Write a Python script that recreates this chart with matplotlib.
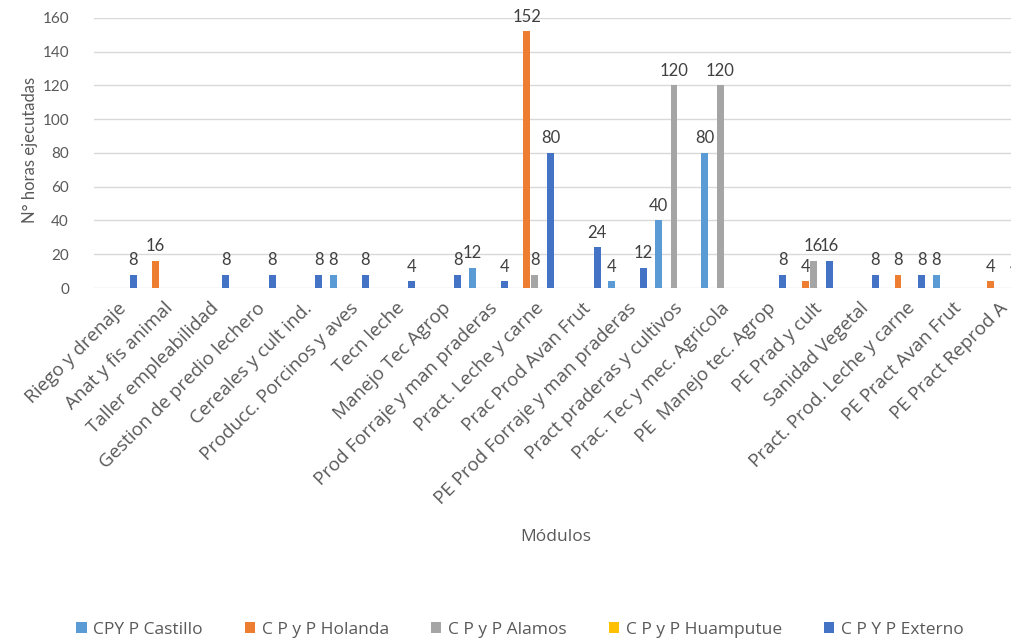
import numpy as np
import matplotlib
matplotlib.use('Agg')
import matplotlib.pyplot as plt

plt.rcParams['font.family'] = ['Lato', 'DejaVu Sans']

# ── Data ─────────────────────────────────────────────────────
modulos = [
    "Riego y drenaje", "Anat y fis animal", "Taller empleabilidad",
    "Gestion de predio lechero", "Cereales y cult ind.", "Producc. Porcinos y aves",
    "Tecn leche", "Manejo Tec Agrop", "Prod Forraje y man praderas",
    "Pract. Leche y carne", "Prac Prod Avan Frut", "PE Prod Forraje y man praderas",
    "Pract praderas y cultivos", "Prac. Tec y mec. Agricola", "PE  Manejo tec. Agrop",
    "PE Prad y cult", "Sanidad Vegetal", "Pract. Prod. Leche y carne",
    "PE Pract Avan Frut", "PE Pract Reprod A",
]
series_names = ["CPY P Castillo", "C P y P Holanda", "C P y P Alamos",
                "C P y P Huamputue", "C P Y P Externo"]
castillo  = [None, None, None, None, None, 8, None, None, 12, None,
             None, 4, 40, 80, None, None, None, None, 8, None]
holanda   = [None, 16, None, None, None, None, None, None, None, 152,
             None, None, None, None, None, 4, None, 8, None, 4]
alamos    = [None, None, None, None, None, None, None, None, None, 8,
             None, None, 120, 120, None, 16, None, None, None, None]
huamputue = [None] * 20
externo   = [8, None, 8, 8, 8, 8, 4, 8, 4, 80,
             24, 12, None, None, 8, 16, 8, 8, None, 4]
colors = ['#5B9BD5', '#ED7D31', '#A5A5A5', '#FFC000', '#4472C4']

# ── Figure ───────────────────────────────────────────────────
fig = plt.figure(figsize=(10.12, 6.43), dpi=100)
ax = fig.add_axes([94 / 1012, 1 - 288 / 643, 928 / 1012, 270 / 643])

x = np.arange(len(modulos))
step, width = 0.172, 0.15
txt = '#404040'
for k, (vals, name, col) in enumerate(zip(
        [castillo, holanda, alamos, huamputue, externo], series_names, colors)):
    v = np.array([np.nan if a is None else a for a in vals], dtype=float)
    pos = x + (k - 2) * step
    ax.bar(pos, np.nan_to_num(v), width=width, color=col, label=name, zorder=3)
    for xi, vi in zip(pos, v):
        if not np.isnan(vi):
            ax.text(xi, vi + 4, f"{int(vi)}", ha='center', va='bottom',
                    fontsize=12, color=txt)

ax.set_xlim(-0.5, len(modulos) - 0.5)
ax.set_ylim(0, 160)
ax.set_yticks(range(0, 161, 20))
ax.yaxis.grid(True, color='#D9D9D9', linewidth=1, zorder=0)
for s in ax.spines.values():
    s.set_visible(False)
ax.tick_params(axis='both', length=0, labelsize=11, labelcolor='#595959')
ax.tick_params(axis='y', pad=18)
ax.set_xticks(x)
ax.set_xticklabels(modulos, rotation=45, ha='right', rotation_mode='anchor',
                   family=['Open Sans', 'DejaVu Sans'], fontsize=13.5)
ax.tick_params(axis='x', pad=8)

fig.text(30 / 1012, 1 - 150 / 643, "N° horas ejecutadas", rotation=90,
         ha='center', va='center', fontsize=12, color='#595959')
fig.text(556 / 1012, 1 - 537 / 643, "Módulos", ha='center', va='center',
         fontsize=12.5, color='#595959', family=['Open Sans', 'DejaVu Sans'])

handles, labels = ax.get_legend_handles_labels()
fig.legend(handles, labels, loc='center', bbox_to_anchor=(520 / 1012, 1 - 630 / 643),
           ncol=5, frameon=False, handlelength=0.6, handleheight=0.6,
           columnspacing=2.4, handletextpad=0.4, labelcolor='#595959',
           prop={'family': ['Open Sans', 'DejaVu Sans'], 'size': 12.5})

fig.savefig("out.png", dpi=100)
